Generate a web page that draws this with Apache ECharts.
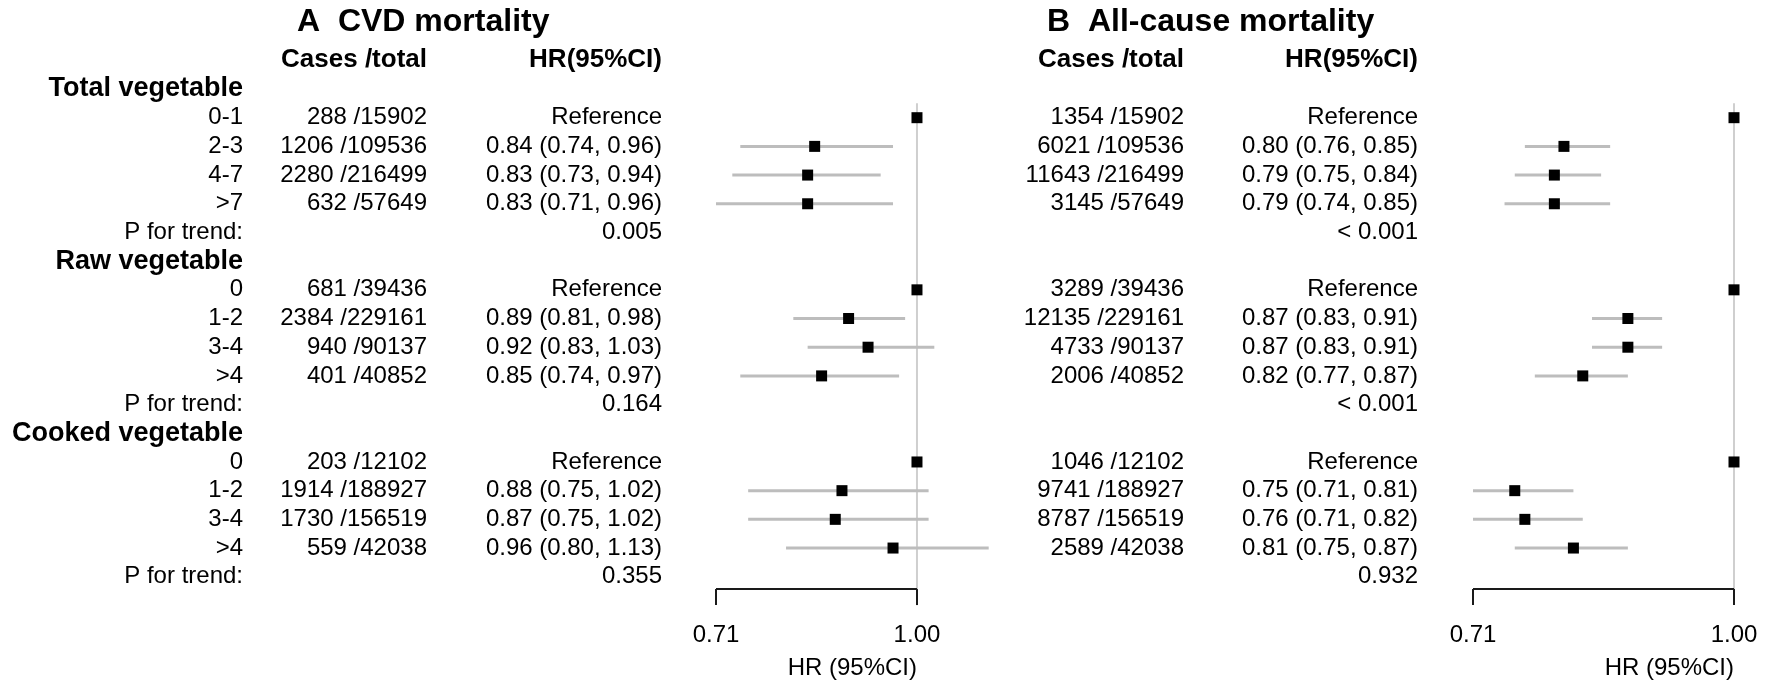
<!DOCTYPE html>
<html><head><meta charset="utf-8">
<script src="https://cdn.jsdelivr.net/npm/echarts@6/dist/echarts.min.js"></script>
<style>html,body{margin:0;padding:0;background:#fff}#c{width:1772px;height:686px}</style>
</head><body><div id="c"></div>
<script>
// ---------------- data ----------------
const groups = ['Total vegetable', 'Raw vegetable', 'Cooked vegetable'];
const levels = [['0-1', '2-3', '4-7', '>7'], ['0', '1-2', '3-4', '>4'], ['0', '1-2', '3-4', '>4']];
const totals = [[15902, 109536, 216499, 57649], [39436, 229161, 90137, 40852], [12102, 188927, 156519, 42038]];

const cvdCases = [[288, 1206, 2280, 632], [681, 2384, 940, 401], [203, 1914, 1730, 559]];
const cvdHR = [[1, 0.84, 0.83, 0.83], [1, 0.89, 0.92, 0.85], [1, 0.88, 0.87, 0.96]];
const cvdLo = [[null, 0.74, 0.73, 0.71], [null, 0.81, 0.83, 0.74], [null, 0.75, 0.75, 0.80]];
const cvdHi = [[null, 0.96, 0.94, 0.96], [null, 0.98, 1.03, 0.97], [null, 1.02, 1.02, 1.13]];
const cvdP = ['0.005', '0.164', '0.355'];

const allCases = [[1354, 6021, 11643, 3145], [3289, 12135, 4733, 2006], [1046, 9741, 8787, 2589]];
const allHR = [[1, 0.80, 0.79, 0.79], [1, 0.87, 0.87, 0.82], [1, 0.75, 0.76, 0.81]];
const allLo = [[null, 0.76, 0.75, 0.74], [null, 0.83, 0.83, 0.77], [null, 0.71, 0.71, 0.75]];
const allHi = [[null, 0.85, 0.84, 0.85], [null, 0.91, 0.91, 0.87], [null, 0.81, 0.82, 0.87]];
const allP = ['< 0.001', '< 0.001', '0.932'];

const axisTicks = [0.71, 1.00];
const axisTickLabels = ['0.71', '1.00'];
const axisTitle = 'HR (95%CI)';
const refValue = 1;
const panelTitles = ['A  CVD mortality', 'B  All-cause mortality'];
const colHeaders = ['Cases /total', 'HR(95%CI)'];
const pLabel = 'P for trend:';
const refLabel = 'Reference';

// ---------------- layout ----------------
const FONT = '"Liberation Sans", Arial, Helvetica, sans-serif';
const ROW0 = 89, STEP = 28.69;
const NROW = 18;

function buildRows(cases, hr, lo, hi, p) {
  const rows = [];
  groups.forEach((g, gi) => {
    const base = gi * 6;
    rows.push({ row: base, kind: 'group', label: g });
    levels[gi].forEach((lv, li) => {
      const isRef = lo[gi][li] == null;
      rows.push({
        row: base + 1 + li, kind: 'level', label: lv,
        cases: cases[gi][li], total: totals[gi][li],
        hr: hr[gi][li], lo: lo[gi][li], hi: hi[gi][li],
        hrText: isRef ? refLabel :
          hr[gi][li].toFixed(2) + ' (' + lo[gi][li].toFixed(2) + ', ' + hi[gi][li].toFixed(2) + ')'
      });
    });
    rows.push({ row: base + 5, kind: 'p', label: pLabel, hrText: p[gi] });
  });
  return rows;
}

const panels = [
  { rows: buildRows(cvdCases, cvdHR, cvdLo, cvdHi, cvdP), left: 716, width: 272.7, max: 1.13,
    labelX: 243, casesX: 427, hrX: 662, showLabels: true, titleX: 297 },
  { rows: buildRows(allCases, allHR, allLo, allHi, allP), left: 1473, width: 261, max: 1.00,
    labelX: 0, casesX: 1184, hrX: 1418, showLabels: false, titleX: 1047 }
];

const grids = [], xAxes = [], yAxes = [], series = [], graphics = [];

panels.forEach((pn, pi) => {
  grids.push({ left: pn.left, width: pn.width, top: ROW0 - 2 * STEP, height: 21 * STEP });
  xAxes.push({ type: 'log', gridIndex: pi, min: axisTicks[0], max: pn.max,
    axisLine: { show: false }, axisTick: { show: false }, axisLabel: { show: false }, splitLine: { show: false } });
  yAxes.push({ type: 'value', gridIndex: pi, min: -2, max: 19, inverse: true,
    axisLine: { show: false }, axisTick: { show: false }, axisLabel: { show: false }, splitLine: { show: false } });

  // reference line + bottom axis
  series.push({
    type: 'custom', xAxisIndex: pi, yAxisIndex: pi, silent: true, z: 1,
    data: [[refValue, 0]],
    renderItem: function (params, api) {
      const top = api.coord([refValue, 0.5]);
      const axisY = api.coord([refValue, NROW - 1 + 0.43])[1];
      const xs = axisTicks.map(t => api.coord([t, 0])[0]);
      const children = [
        { type: 'line', shape: { x1: top[0], y1: top[1], x2: top[0], y2: axisY }, style: { stroke: '#cfcfcf', lineWidth: 2 } },
        { type: 'line', shape: { x1: xs[0], y1: axisY, x2: xs[xs.length - 1], y2: axisY }, style: { stroke: '#1a1a1a', lineWidth: 2 } }
      ];
      xs.forEach((x, i) => {
        children.push({ type: 'line', shape: { x1: x, y1: axisY, x2: x, y2: axisY + 16 }, style: { stroke: '#1a1a1a', lineWidth: 2 } });
        children.push({ type: 'text', x: x, y: axisY + 46, style: { text: axisTickLabels[i], font: '24px ' + FONT, fill: '#000', textAlign: 'center', textVerticalAlign: 'middle' } });
      });
      children.push({ type: 'text', x: xs[xs.length - 1], y: axisY + 79, style: { text: axisTitle, font: '24px ' + FONT, fill: '#000', textAlign: 'right', textVerticalAlign: 'middle' } });
      return { type: 'group', children: children };
    }
  });

  // confidence intervals
  const ciData = pn.rows.filter(r => r.kind === 'level' && r.lo != null).map(r => [r.lo, r.hi, r.row]);
  series.push({
    type: 'custom', xAxisIndex: pi, yAxisIndex: pi, silent: true, z: 2,
    encode: { x: [0, 1], y: 2 },
    data: ciData,
    renderItem: function (params, api) {
      const a = api.coord([api.value(0), api.value(2)]);
      const b = api.coord([api.value(1), api.value(2)]);
      return { type: 'line', shape: { x1: a[0], y1: a[1], x2: b[0], y2: b[1] }, style: { stroke: '#bdbdbd', lineWidth: 3 } };
    }
  });

  // point estimates
  series.push({
    type: 'scatter', xAxisIndex: pi, yAxisIndex: pi, silent: true, z: 3,
    symbol: 'rect', symbolSize: 11, itemStyle: { color: '#000', opacity: 1 },
    data: pn.rows.filter(r => r.kind === 'level').map(r => [r.hr, r.row])
  });

  // table text
  series.push({
    type: 'custom', xAxisIndex: pi, yAxisIndex: pi, silent: true, z: 4,
    data: pn.rows.map(r => [refValue, r.row]),
    renderItem: function (params, api) {
      const r = pn.rows[params.dataIndex];
      const y = api.coord([refValue, api.value(1)])[1];
      const children = [];
      const reg = '24px ' + FONT, bold = 'bold 27px ' + FONT;
      if (pn.showLabels) {
        children.push({ type: 'text', x: pn.labelX, y: y, style: { text: r.label, font: r.kind === 'group' ? bold : reg, fill: '#000', textAlign: 'right', textVerticalAlign: 'middle' } });
      }
      if (r.kind === 'level') {
        children.push({ type: 'text', x: pn.casesX, y: y, style: { text: r.cases + ' /' + r.total, font: reg, fill: '#000', textAlign: 'right', textVerticalAlign: 'middle' } });
      }
      if (r.hrText) {
        children.push({ type: 'text', x: pn.hrX, y: y, style: { text: r.hrText, font: reg, fill: '#000', textAlign: 'right', textVerticalAlign: 'middle' } });
      }
      return { type: 'group', children: children };
    }
  });

  graphics.push({ type: 'text', left: pn.titleX, top: 6, style: { text: panelTitles[pi], font: 'bold 32px ' + FONT, fill: '#000' } });
  graphics.push({ type: 'text', x: pn.casesX, y: 60, style: { text: colHeaders[0], font: 'bold 26px ' + FONT, fill: '#000', textAlign: 'right', textVerticalAlign: 'middle' } });
  graphics.push({ type: 'text', x: pn.hrX, y: 60, style: { text: colHeaders[1], font: 'bold 26px ' + FONT, fill: '#000', textAlign: 'right', textVerticalAlign: 'middle' } });
});

const chart = echarts.init(document.getElementById('c'));
chart.setOption({
  animation: false,
  backgroundColor: '#fff',
  grid: grids, xAxis: xAxes, yAxis: yAxes, series: series, graphic: graphics
});
</script>
</body></html>
